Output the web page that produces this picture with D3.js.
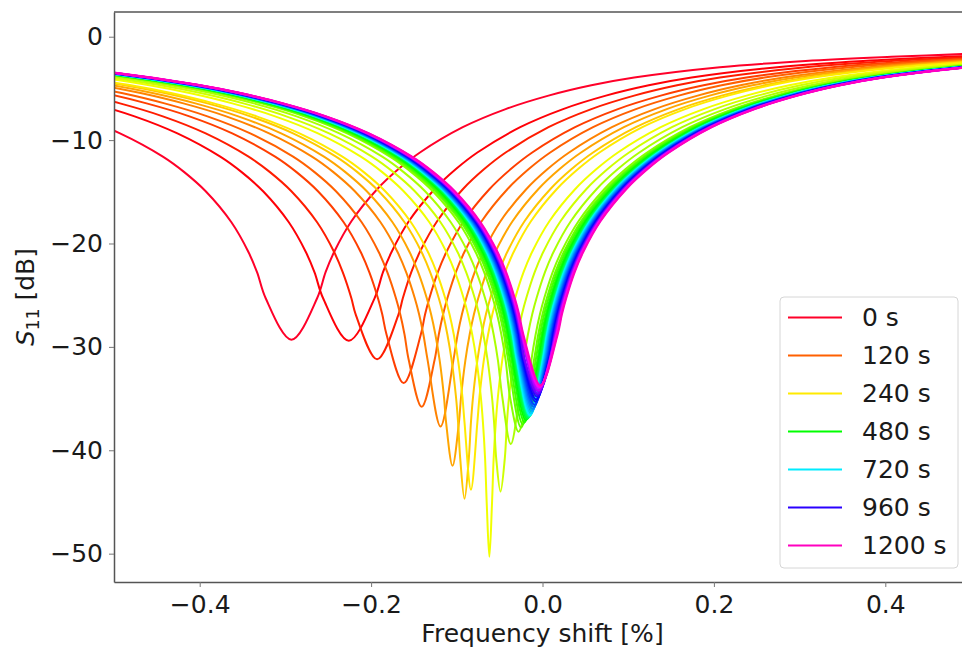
<!DOCTYPE html>
<html>
<head>
<meta charset="utf-8">
<script src="https://cdn.jsdelivr.net/npm/d3@7"></script>
<style>
	body { margin: 0; background: #fff; }
	svg text { font-family: "DejaVu Sans", sans-serif; fill: #1a1a1a; }
</style>
</head>
<body>
<svg id="chart" width="962" height="649"></svg>
<script>
// one curve every 30 s
const times = [0, 30, 60, 90, 120, 150, 180, 210, 240, 270, 300, 330, 360, 390, 420, 450, 480, 510, 540, 570,
	600, 630, 660, 690, 720, 750, 780, 810, 840, 870, 900, 930, 960, 990, 1020, 1050, 1080, 1110, 1140, 1170, 1200]

// resonance dip of each curve
const dipShift = [-0.293, -0.226, -0.193, -0.162, -0.141, -0.119, -0.105, -0.091, -0.0835, -0.062, -0.049, -0.037, -0.028,
	-0.025, -0.023, -0.021, -0.0195, -0.018, -0.017, -0.016, -0.0155, -0.015, -0.0148, -0.0145, -0.0143,
	-0.0133, -0.0123, -0.0113, -0.0103, -0.0093, -0.0083, -0.0074, -0.0065,
	-0.006, -0.0055, -0.005, -0.0045, -0.004, -0.0035, -0.003, -0.0023]
const dipDepth = [-29.3, -29.4, -31.2, -33.5, -35.8, -37.7, -41.5, -44.7, -43.8, -50.3, -44.0, -39.4, -38.2,
	-37.8, -37.5, -37.3, -37.1, -37.0, -36.9, -36.8, -36.7, -36.7, -36.6, -36.6, -36.6,
	-36.4, -36.2, -36.0, -35.8, -35.6, -35.3, -35.1, -34.8,
	-34.6, -34.5, -34.3, -34.2, -34.0, -33.9, -33.8, -33.7]

// flank of a dip: distance from the dip [%] and S11 [dB] on each side
const flankOffset = [0.003, 0.005, 0.0075, 0.01, 0.015, 0.02, 0.025, 0.03, 0.04, 0.05, 0.07, 0.1, 0.125, 0.15,
	0.2, 0.25, 0.3, 0.35, 0.4, 0.5, 0.6, 0.7, 0.8]
const flankLeftDb = [-45.3, -40.8, -37.3, -34.8, -31.3, -28.8, -26.85, -25.3, -22.8, -20.85, -17.95, -14.95, -13.1, -11.6,
	-9.35, -7.7, -6.45, -5.45, -4.65, -3.45, -2.65, -2.1, -1.7]
const flankRightDb = [-45.3, -40.8, -37.3, -34.8, -31.3, -28.8, -26.85, -25.3, -22.75, -20.8, -17.85, -14.75, -12.8, -11.2,
	-8.75, -7.0, -5.7, -4.7, -3.95, -2.95, -2.35, -1.95, -1.63]

const legendTimes = [0, 120, 240, 480, 720, 960, 1200]
const xTicks = [-0.4, -0.2, 0.0, 0.2, 0.4]
const yTicks = [0, -10, -20, -30, -40, -50]

// gist_rainbow stops
const rainbowStops = [0, 0.03, 0.215, 0.4, 0.586, 0.77, 0.954, 1]
const rainbowColors = ['#ff0029', '#ff0000', '#ffff00', '#00ff00', '#00ffff', '#0000ff', '#ff00ff', '#ff00bf']

const plot = {left: 114, right: 971, top: 12, bottom: 582}

const svg = d3.select('#chart')

const x = d3.scaleLinear().domain([-0.5, 0.5]).range([plot.left, plot.right])
const y = d3.scaleLinear().domain([-52.74, 2.39]).range([plot.bottom, plot.top])
const rainbow = d3.scaleLinear().domain(rainbowStops).range(rainbowColors)
const color = t => rainbow(t / 1200)

svg.append('clipPath').attr('id', 'clip')
	.append('rect')
	.attr('x', plot.left).attr('y', plot.top)
	.attr('width', plot.right - plot.left).attr('height', plot.bottom - plot.top)

// flank points that stay clear of the dip on both sides, with the dip in between
function curvePoints(i) {
	const c = dipShift[i]
	const depth = dipDepth[i]
	const pts = []
	for (let k = flankOffset.length - 1; k >= 0; k--)
		if (flankLeftDb[k] > depth + 3) pts.push([c - flankOffset[k], flankLeftDb[k]])
	pts.push([c, depth])
	for (let k = 0; k < flankOffset.length; k++)
		if (flankRightDb[k] > depth + 3) pts.push([c + flankOffset[k], flankRightDb[k]])
	return pts
}

const line = d3.line()
	.x(d => x(d[0]))
	.y(d => y(d[1]))
	.curve(d3.curveCatmullRom.alpha(0.5))

svg.append('g').attr('clip-path', 'url(#clip)')
	.selectAll('path').data(times).enter()
	.append('path')
	.attr('d', (t, i) => line(curvePoints(i)))
	.attr('fill', 'none')
	.attr('stroke', t => color(t))
	.attr('stroke-width', 2)
	.attr('stroke-linejoin', 'round')

// axes
const fmt = d3.format('.1f')
const xAxis = svg.append('g')
	.attr('transform', `translate(0,${plot.bottom})`)
	.call(d3.axisBottom(x).tickValues(xTicks).tickFormat(fmt).tickSize(5).tickPadding(8).tickSizeOuter(0))
const yAxis = svg.append('g')
	.attr('transform', `translate(${plot.left},0)`)
	.call(d3.axisLeft(y).tickValues(yTicks).tickSize(5).tickPadding(6).tickSizeOuter(0))

for (const g of [xAxis, yAxis]) {
	g.select('.domain').attr('stroke', '#555').attr('stroke-width', 1.5)
	g.selectAll('.tick line').attr('stroke', '#777').attr('stroke-width', 1)
	g.selectAll('.tick text').attr('font-size', 25).attr('fill', '#1a1a1a')
		.attr('font-family', '"DejaVu Sans", sans-serif')
}

svg.append('line')
	.attr('x1', plot.left).attr('x2', plot.right)
	.attr('y1', plot.top).attr('y2', plot.top)
	.attr('stroke', '#555').attr('stroke-width', 1.5)

svg.append('text')
	.attr('x', (plot.left + plot.right) / 2).attr('y', 642)
	.attr('text-anchor', 'middle').attr('font-size', 25)
	.text('Frequency shift [%]')

const yTitle = svg.append('text')
	.attr('transform', `translate(34,${(plot.top + plot.bottom) / 2}) rotate(-90)`)
	.attr('text-anchor', 'middle').attr('font-size', 25)
yTitle.append('tspan').attr('font-style', 'italic').text('S')
yTitle.append('tspan').attr('font-size', 17).attr('dy', 5).text('11')
yTitle.append('tspan').attr('dy', -5).text(' [dB]')

// legend
const legend = svg.append('g')
legend.append('rect')
	.attr('x', 780).attr('y', 297).attr('width', 178).attr('height', 271).attr('rx', 4)
	.attr('fill', '#fff').attr('fill-opacity', 0.8)
	.attr('stroke', '#d6d6d6').attr('stroke-width', 1)

const rows = legend.selectAll('g.row').data(legendTimes).enter()
	.append('g').attr('class', 'row')
	.attr('transform', (t, i) => `translate(0,${317.5 + i * 38})`)
rows.append('line')
	.attr('x1', 788).attr('x2', 842)
	.attr('stroke', t => color(t)).attr('stroke-width', 2)
rows.append('text')
	.attr('x', 862).attr('dy', '0.35em').attr('font-size', 25)
	.text(t => `${t} s`)
</script>
</body>
</html>
